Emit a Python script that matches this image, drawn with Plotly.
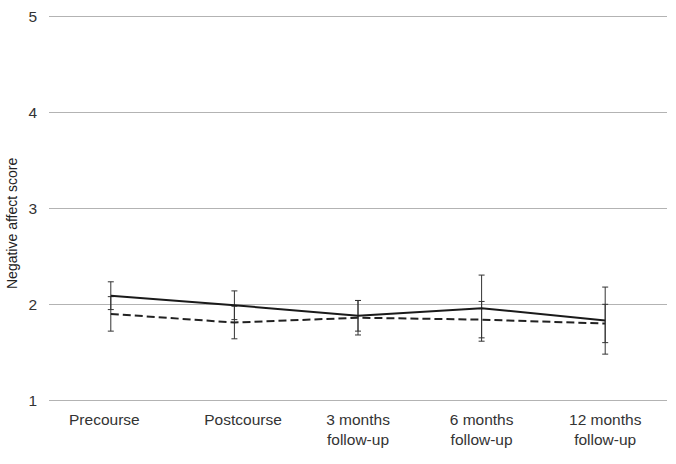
import plotly.graph_objects as go

categories = ["Precourse", "Postcourse", "3 months<br>follow-up", "6 months<br>follow-up", "12 months<br>follow-up"]
tick_labels = ["Precourse\u00a0\u00a0\u00a0", "\u00a0\u00a0\u00a0\u00a0Postcourse",
               "3 months<br>follow-up", "6 months<br>follow-up", "12 months<br>follow-up"]
solid_vals = [2.09, 1.99, 1.88, 1.96, 1.83]
solid_err = [0.145, 0.15, 0.16, 0.345, 0.35]
dashed_vals = [1.90, 1.81, 1.86, 1.84, 1.80]
dashed_err = [0.18, 0.17, 0.18, 0.19, 0.20]
y_ticks = [1, 2, 3, 4, 5]

fig = go.Figure()
fig.add_trace(go.Scatter(
    x=categories, y=dashed_vals, mode="lines",
    line=dict(color="#222222", width=2, dash="8px,4px"),
    error_y=dict(type="data", array=dashed_err, visible=True, color="#333333", thickness=1, width=3),
    showlegend=False))
fig.add_trace(go.Scatter(
    x=categories, y=solid_vals, mode="lines",
    line=dict(color="#1a1a1a", width=2),
    error_y=dict(type="data", array=solid_err, visible=True, color="#333333", thickness=1, width=3),
    showlegend=False))

fig.add_annotation(
    text="Negative affect score", textangle=-90,
    xref="paper", yref="paper", x=(12 - 49) / 618, y=(403 - 224) / 389,
    xanchor="center", yanchor="middle", showarrow=False,
    font=dict(size=14, color="#222222"))

fig.update_layout(
    width=676, height=464,
    margin=dict(l=49, r=9, t=14, b=61),
    plot_bgcolor="white", paper_bgcolor="white",
    font=dict(family="Liberation Sans, Arial, sans-serif", size=15.5, color="#333333"),
    xaxis=dict(range=[-0.5, 4.5], showgrid=False, showline=False, zeroline=False, ticks="",
               tickvals=categories, ticktext=tick_labels,
               ticklabelstandoff=5, tickfont=dict(size=15.5, color="#333333")),
    yaxis=dict(range=[0.97, 5.03], tickvals=y_ticks, showgrid=True, gridcolor="#b3b3b3", gridwidth=1,
               zeroline=False, showline=False, ticks="", ticklabelstandoff=11,
               tickfont=dict(size=15.5, color="#333333")),
)
fig.write_html("out.html")
